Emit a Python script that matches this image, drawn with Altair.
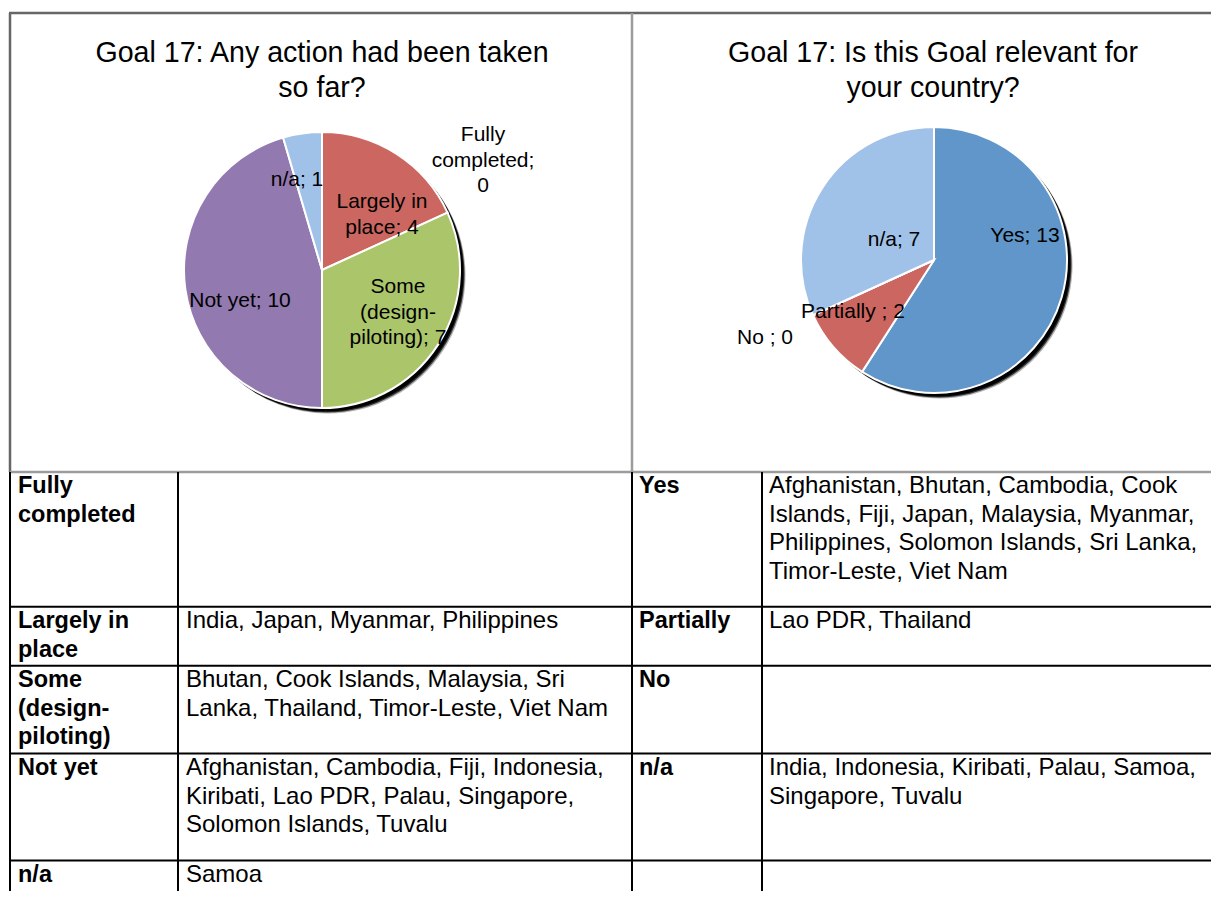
import altair as alt
import pandas as pd

# ---------------- data ----------------
ACTION_TITLE = "Goal 17: Any action had been taken\nso far?"
ACTION_CATS = ["Fully completed", "Largely in place", "Some (design-piloting)", "Not yet", "n/a"]
ACTION_VALS = [0, 4, 7, 10, 1]
ACTION_LABEL_TEXT = ["Fully\ncompleted;\n{v}", "Largely in\nplace; {v}", "Some\n(design-\npiloting); {v}",
                     "Not yet; {v}", "n/a; {v}"]

RELEVANT_TITLE = "Goal 17: Is this Goal relevant for\nyour country?"
RELEVANT_CATS = ["Yes", "Partially ", "No ", "n/a"]
RELEVANT_VALS = [13, 2, 0, 7]

ACTION_ROWS = ["Fully\ncompleted", "Largely in\nplace", "Some\n(design-\npiloting)", "Not yet", "n/a"]
ACTION_COUNTRIES = [
    "",
    "India, Japan, Myanmar, Philippines",
    "Bhutan, Cook Islands, Malaysia, Sri\nLanka, Thailand, Timor-Leste, Viet Nam",
    "Afghanistan, Cambodia, Fiji, Indonesia,\nKiribati, Lao PDR, Palau, Singapore,\nSolomon Islands, Tuvalu",
    "Samoa",
]
RELEVANT_ROWS = ["Yes", "Partially", "No", "n/a", ""]
RELEVANT_COUNTRIES = [
    "Afghanistan, Bhutan, Cambodia, Cook\nIslands, Fiji, Japan, Malaysia, Myanmar,\nPhilippines, Solomon Islands, Sri Lanka,\nTimor-Leste, Viet Nam",
    "Lao PDR, Thailand",
    "",
    "India, Indonesia, Kiribati, Palau, Samoa,\nSingapore, Tuvalu",
    "",
]

# ---------------- styles / layout ----------------
ACTION_COLORS = ["#5B8BC4", "#CB6661", "#ABC56B", "#9279AF", "#A0C2E9"]
RELEVANT_COLORS = ["#6096C9", "#CB6661", "#ABC56B", "#A0C2E9"]
FONT = "Liberation Sans"
W, H = 1203, 883
M = 8  # page margin: layout coordinates below are page pixels

PIE1 = dict(cx=322, cy=270, r=138)
PIE2 = dict(cx=934, cy=260, r=133)
ACTION_LABEL_POS = [(483, 141), (382, 208), (398, 293), (240, 307), (297, 186)]
RELEVANT_LABEL_POS = [(1025, 242), (853, 318), (765, 344), (894, 246)]
TITLE_POS = [(322, 62), (933, 62)]

COL_EDGES = [10, 178, 632, 762]
ROW_TOPS = [471.5, 606.7, 665.7, 753.5, 860.5]
TEXT_X = [18, 186, 639, 769]
BASE_OFF = 21.6
LINE_H = 28.5

XS = alt.Scale(domain=[M, W + M], nice=False, zero=False)
YS = alt.Scale(domain=[M, H + M], nice=False, zero=False, reverse=True)


def X(f):
    return alt.X(f, scale=XS, axis=None)


def Y(f):
    return alt.Y(f, scale=YS, axis=None)


# ---------------- pies ----------------
def pie_layers(cats, vals, colors, pie):
    df = pd.DataFrame({"cat": cats, "value": vals, "idx": list(range(len(cats)))})
    theta = alt.Theta("value:Q", stack=True, scale=alt.Scale(type="linear"))
    order = alt.Order("idx:Q", sort="ascending")
    cx, cy, r = pie["cx"] - M, pie["cy"] - M, pie["r"]
    layers = []
    for d, op in [(5.5, 0.3), (4.5, 0.7), (3.5, 1.0)]:
        layers.append(
            alt.Chart(df).mark_arc(color="black", opacity=op, outerRadius=r).encode(
                theta=theta, order=order, x=alt.value(cx + d), y=alt.value(cy + d)
            )
        )
    layers.append(
        alt.Chart(df).mark_arc(outerRadius=r, stroke="white", strokeWidth=2).encode(
            theta=theta, order=order,
            color=alt.Color("cat:N", scale=alt.Scale(domain=cats, range=colors), legend=None),
            x=alt.value(cx), y=alt.value(cy),
        )
    )
    return layers


def label_layer(texts, pos):
    df = pd.DataFrame({"t": texts, "x": [p[0] for p in pos], "y": [p[1] for p in pos]})
    return alt.Chart(df).mark_text(
        font=FONT, fontSize=21, align="center", baseline="alphabetic", lineBreak="\n",
        lineHeight=25.5, color="black"
    ).encode(x=X("x:Q"), y=Y("y:Q"), text="t:N")


action_labels = [t.format(v=v) for t, v in zip(ACTION_LABEL_TEXT, ACTION_VALS)]
relevant_labels = [f"{c}; {v}" for c, v in zip(RELEVANT_CATS, RELEVANT_VALS)]

# ---------------- titles ----------------
title_df = pd.DataFrame({"t": [ACTION_TITLE, RELEVANT_TITLE],
                         "x": [p[0] for p in TITLE_POS], "y": [p[1] for p in TITLE_POS]})
titles = alt.Chart(title_df).mark_text(
    font=FONT, fontSize=28.6, align="center", baseline="alphabetic", lineBreak="\n",
    lineHeight=35, color="black"
).encode(x=X("x:Q"), y=Y("y:Q"), text="t:N")

# ---------------- frame and table grid ----------------
gray_dark = pd.DataFrame({"x1": [9, 10], "y1": [13, 13], "x2": [W + M, 10], "y2": [13, 472]})
gray_light = pd.DataFrame({"x1": [632, 10], "y1": [13, 472], "x2": [632, W + M], "y2": [472, 472]})
vlines = [(x, 472, x, H + M) for x in COL_EDGES]
hlines = [(10, y, W + M, y) for y in ROW_TOPS[1:]]
black = pd.DataFrame(vlines + hlines, columns=["x1", "y1", "x2", "y2"])


def rule_layer(df, color, width):
    return alt.Chart(df).mark_rule(color=color, strokeWidth=width).encode(
        x=X("x1:Q"), y=Y("y1:Q"), x2="x2:Q", y2="y2:Q"
    )


# ---------------- table text ----------------
heads, bodies = [], []
for i, top in enumerate(ROW_TOPS):
    yb = top + BASE_OFF
    heads.append((ACTION_ROWS[i], TEXT_X[0], yb))
    bodies.append((ACTION_COUNTRIES[i], TEXT_X[1], yb))
    heads.append((RELEVANT_ROWS[i], TEXT_X[2], yb))
    bodies.append((RELEVANT_COUNTRIES[i], TEXT_X[3], yb))
heads_df = pd.DataFrame([h for h in heads if h[0]], columns=["t", "x", "y"])
bodies_df = pd.DataFrame([b for b in bodies if b[0]], columns=["t", "x", "y"])

head_text = alt.Chart(heads_df).mark_text(
    font=FONT, fontSize=23.5, fontWeight="bold", align="left", baseline="alphabetic",
    lineBreak="\n", lineHeight=LINE_H, color="black"
).encode(x=X("x:Q"), y=Y("y:Q"), text="t:N")
body_text = alt.Chart(bodies_df).mark_text(
    font=FONT, fontSize=24, align="left", baseline="alphabetic",
    lineBreak="\n", lineHeight=LINE_H, color="black"
).encode(x=X("x:Q"), y=Y("y:Q"), text="t:N")

layers = (
    [rule_layer(gray_dark, "#666666", 2.5), rule_layer(gray_light, "#9c9c9c", 2.5)]
    + pie_layers(ACTION_CATS, ACTION_VALS, ACTION_COLORS, PIE1)
    + pie_layers(RELEVANT_CATS, RELEVANT_VALS, RELEVANT_COLORS, PIE2)
    + [label_layer(action_labels, ACTION_LABEL_POS), label_layer(relevant_labels, RELEVANT_LABEL_POS),
       titles, rule_layer(black, "black", 2), head_text, body_text]
)

chart = (
    alt.layer(*layers)
    .resolve_scale(theta="independent", color="independent")
    .properties(width=W, height=H, padding=0, autosize="none", background="white")
    .configure_view(stroke=None)
)

chart.save("out.html", embed_options={"renderer": "svg", "actions": False})
